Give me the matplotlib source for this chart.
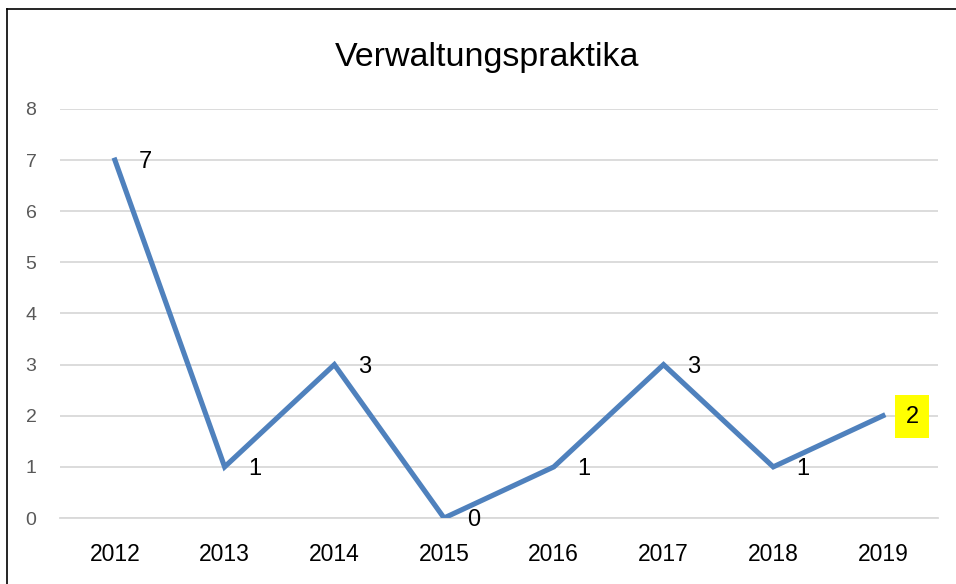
import matplotlib
matplotlib.use('Agg')
import matplotlib.pyplot as plt
from matplotlib.lines import Line2D

years = ['2012', '2013', '2014', '2015', '2016', '2017', '2018', '2019']
values = [7, 1, 3, 0, 1, 3, 1, 2]

plt.rcParams['font.family'] = ['Liberation Sans', 'DejaVu Sans']

fig = plt.figure(figsize=(9.56, 5.84), dpi=100)
ax = fig.add_axes([0.0628, 0.113, 0.981 - 0.0628, 0.8134 - 0.113])

xs = list(range(len(years)))
ax.plot(xs, values, color='#4f81bd', lw=3.7, solid_joinstyle='miter', zorder=3)

ax.set_xlim(-0.5, len(years) - 0.5)
ax.set_ylim(0, 8)
ax.set_yticks(range(0, 9))
ax.set_xticks(xs)
ax.set_xticklabels(years)
ax.grid(axis='y', color='#d9d9d9', lw=1.3)
ax.set_axisbelow(True)
for s in ax.spines.values():
    s.set_visible(False)
ax.spines['bottom'].set_visible(True)
ax.spines['bottom'].set_color('#d9d9d9')
ax.spines['bottom'].set_linewidth(1.3)
ax.tick_params(axis='both', length=0)
ax.tick_params(axis='y', labelsize=14, colors='#595959', pad=17)
ax.tick_params(axis='x', labelsize=16.5, colors='black', pad=18)

for i, (x, v) in enumerate(zip(xs, values)):
    if i == len(values) - 1:
        ax.annotate(str(v), (x, v), xytext=(29, -1), textcoords='offset pixels',
                    ha='center', va='center', fontsize=17,
                    bbox=dict(boxstyle='square,pad=0.45', fc='yellow', ec='none'))
    else:
        ax.annotate(str(v), (x, v), xytext=(30, -2), textcoords='offset pixels',
                    ha='center', va='center', fontsize=17)

fig.text(0.51, 0.902, 'Verwaltungspraktika', ha='center', va='center', fontsize=24.5)

fig.add_artist(Line2D([7 / 956, 1], [1 - 9 / 584, 1 - 9 / 584], color='black', lw=1.2,
                      transform=fig.transFigure))
fig.add_artist(Line2D([7 / 956, 7 / 956], [0, 1 - 9 / 584], color='black', lw=1.2,
                      transform=fig.transFigure))

fig.savefig('out.png', dpi=100)
